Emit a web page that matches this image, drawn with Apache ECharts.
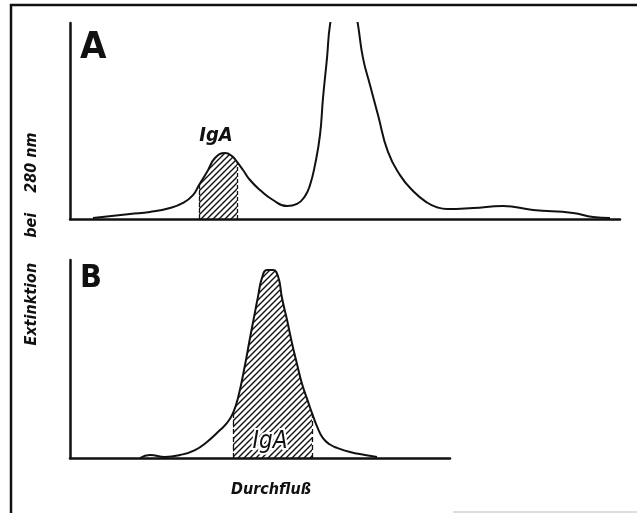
<!DOCTYPE html>
<html>
<head>
<meta charset="utf-8">
<script src="https://cdn.jsdelivr.net/npm/echarts@6/dist/echarts.min.js"></script>
<style>
html,body{margin:0;padding:0;background:#fff;}
#chart{width:637px;height:513px;}
</style>
</head>
<body>
<div id="chart"></div>
<script>
// Panel A: chromatogram (Durchfluss units vs. extinction units)
const aX = [4.6, 12, 16, 20, 22.6, 24.6, 25.8, 27.4, 29, 31, 32.4, 33.4, 34.6, 36, 38, 40.6, 43.4, 45.4, 47, 48, 49, 50, 50.6, 51.4, 52, 54.8, 57.6, 58.6, 60, 61.6, 63.6, 66, 68.6, 71.4, 73.4, 75.4, 80.6, 86.6, 92.6, 100.6, 104.6, 108];
const aY = [0.5, 2.6, 3.6, 5.6, 8.2, 12.2, 17.3, 24, 31.1, 33.7, 32.1, 29.1, 25, 19.9, 14.8, 9.7, 6.6, 7.7, 11.7, 17.3, 27.6, 42.9, 61.7, 82.1, 99, 142, 99, 82.1, 68.4, 53.1, 34.2, 22.4, 14.3, 8.4, 6.0, 5.1, 5.6, 6.6, 4.6, 3.1, 1, 0.5];
const aHatch = [25.8, 33.4];
// Panel B: purified fraction
const bX = [14, 16, 19, 22, 25, 27.4, 30, 31.4, 32.6, 33.6, 35, 36, 37, 37.6, 38.4, 39.4, 40.6, 41.6, 42.4, 43.4, 44.4, 45.4, 46.4, 47.6, 48.4, 49.4, 50.6, 52, 53.4, 56, 59, 61.4];
const bY = [0, 1.5, 0.5, 1.5, 4, 8.1, 14.1, 17.7, 22.7, 30.3, 47, 60.6, 73.7, 81.5, 91, 94.9, 94.9, 91.9, 80.8, 69.8, 58, 47.5, 37.5, 28.5, 22.7, 16, 10, 6.8, 5.1, 3, 1.5, 0.5];
const bHatch = [32.6, 48.4];
const labels = {a: 'A', b: 'B', peak: 'IgA', yName: 'Extinktion     bei    280 nm', xName: 'Durchfluß'};

function zip(xs, ys) { return xs.map((x, i) => [x, ys[i]]); }
function sub(xs, ys, r) { return zip(xs, ys).filter(p => p[0] >= r[0] && p[0] <= r[1]); }

// hatch pattern
const pc = document.createElement('canvas');
pc.width = 6; pc.height = 6;
const g = pc.getContext('2d');
g.strokeStyle = '#111'; g.lineWidth = 1.4;
g.beginPath();
g.moveTo(-1, 7); g.lineTo(7, -1);
g.moveTo(-1, 1); g.lineTo(1, -1);
g.moveTo(5, 7); g.lineTo(7, 5);
g.stroke();
const hatch = {image: pc, repeat: 'repeat'};

const chart = echarts.init(document.getElementById('chart'), null, {renderer: 'canvas'});
const FONT = '"DejaVu Sans Condensed","Liberation Sans Narrow","DejaVu Sans",sans-serif';
const SM = 0.5;

function axisX(grid, max) {
  return {type: 'value', gridIndex: grid, min: 0, max: max,
    axisLine: {show: true, onZero: false, lineStyle: {color: '#111', width: 2.5}},
    axisTick: {show: false}, axisLabel: {show: false}, splitLine: {show: false}};
}
function axisY(grid) {
  return {type: 'value', gridIndex: grid, min: 0, max: 100,
    axisLine: {show: true, lineStyle: {color: '#111', width: 2.5}},
    axisTick: {show: false}, axisLabel: {show: false}, splitLine: {show: false}};
}
function edgeLines(xs, ys, r) {
  const pts = sub(xs, ys, r);
  const f = pts[0], l = pts[pts.length - 1];
  return [[{coord: [f[0], 0]}, {coord: f}], [{coord: [l[0], 0]}, {coord: l}]];
}
function curve(ax, xs, ys) {
  return {type: 'line', xAxisIndex: ax, yAxisIndex: ax, data: zip(xs, ys), smooth: SM, clip: true,
    symbol: 'none', lineStyle: {color: '#111', width: 2}, z: 3};
}
function hatched(ax, xs, ys, r, dash) {
  return {type: 'line', xAxisIndex: ax, yAxisIndex: ax, data: sub(xs, ys, r), smooth: SM,
    symbol: 'none', lineStyle: {width: 0}, areaStyle: {color: hatch, opacity: 1}, z: 2,
    markLine: {silent: true, symbol: 'none', label: {show: false},
      lineStyle: {color: '#111', width: 1.3, type: dash}, data: edgeLines(xs, ys, r)}};
}

const option = {
  animation: false,
  backgroundColor: '#fff',
  grid: [
    {left: 70, top: 23, width: 550, height: 196},
    {left: 70, top: 260, width: 380, height: 198}
  ],
  xAxis: [axisX(0, 110), axisX(1, 76)],
  yAxis: [axisY(0), axisY(1)],
  series: [
    hatched(0, aX, aY, aHatch, [4, 2]),
    curve(0, aX, aY),
    hatched(1, bX, bY, bHatch, [5, 3]),
    curve(1, bX, bY)
  ],
  graphic: [
    {type: 'line', shape: {x1: 10, y1: 5, x2: 637, y2: 5}, style: {stroke: '#111', lineWidth: 2.5}},
    {type: 'line', shape: {x1: 11, y1: 4, x2: 11, y2: 513}, style: {stroke: '#111', lineWidth: 2.5}},
    {type: 'line', shape: {x1: 453, y1: 512, x2: 637, y2: 512}, style: {stroke: '#bbb', lineWidth: 1}},
    {type: 'text', x: 80, y: 48, z: 10, style: {text: labels.a, font: 'bold 38px ' + FONT, fill: '#111', align: 'left', verticalAlign: 'middle'}},
    {type: 'text', x: 80, y: 279, z: 10, style: {text: labels.b, font: 'bold 32px ' + FONT, fill: '#111', align: 'left', verticalAlign: 'middle'}},
    {type: 'text', x: 216, y: 136, z: 10, style: {text: labels.peak, font: 'italic bold 20px ' + FONT, fill: '#111', align: 'center', verticalAlign: 'middle'}},
    {type: 'text', x: 270, y: 442, z: 10, style: {text: labels.peak, font: 'italic 24px ' + FONT, fill: '#111', align: 'center', verticalAlign: 'middle', stroke: '#fff', lineWidth: 4}},
    {type: 'text', x: 32, y: 239, rotation: Math.PI / 2, z: 10, style: {text: labels.yName, font: 'italic bold 16px ' + FONT, fill: '#111', align: 'center', verticalAlign: 'middle'}},
    {type: 'text', x: 271, y: 490, z: 10, style: {text: labels.xName, font: 'italic bold 16px ' + FONT, fill: '#111', align: 'center', verticalAlign: 'middle'}}
  ]
};
chart.setOption(option);
</script>
</body>
</html>
